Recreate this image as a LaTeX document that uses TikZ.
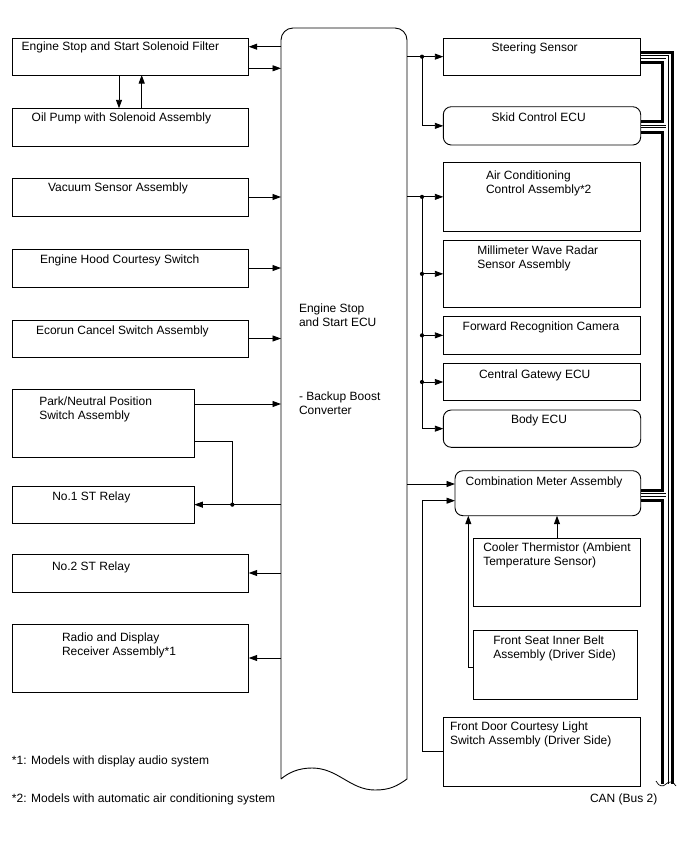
\documentclass[tikz,border=0pt]{standalone}
\usepackage{fontspec}
\setmainfont{Liberation Sans}
\usetikzlibrary{arrows.meta}
\begin{document}
\begin{tikzpicture}[x=1pt,y=-1pt,
  box/.style={draw, line width=0.9pt, inner sep=0pt, outer sep=0pt, anchor=north west},
  rbox/.style={box, rounded corners=8pt},
  lbl/.style={inner sep=0pt, outer sep=0pt, anchor=base west, font=\fontsize{12}{14}\selectfont},
  mlbl/.style={inner sep=0pt, outer sep=0pt, anchor=north west, align=left, font=\fontsize{12}{14}\selectfont},
  arr/.style={line width=0.9pt, -{Triangle[length=8.5pt,width=6pt]}},
  ln/.style={line width=0.9pt},
  dot/.style={circle, fill, inner sep=0pt, minimum size=4.2pt},
  thk/.style={line width=3pt},
  dbl/.style={double=white, double distance=1.7pt, line width=0.9pt}
]
\useasboundingbox[fill=white] (0,0) rectangle (688,852);

% ---------- Engine Stop and Start ECU ----------
\node[inner sep=0pt, outer sep=0pt, minimum width=126pt, minimum height=751pt, anchor=north west] (ecu) at (281,28) {};
\draw[line width=0.9pt] (281,779) -- (281,40) .. controls (281,33.4) and (286.4,28) .. (293,28)
  -- (395,28) .. controls (401.6,28) and (407,33.4) .. (407,40) -- (407,779)
  .. controls (397,786) and (390,790) .. (375,790)
  .. controls (350,790) and (338,768) .. (312,768)
  .. controls (298,768) and (288,773) .. (281,779);
\node[mlbl] (ecut1) at (299,303.3) {Engine Stop\\and Start ECU};
\node[mlbl] (ecut2) at (299,391.3) {- Backup Boost\\Converter};

% ---------- left boxes ----------
\node[box, minimum width=236.4pt, minimum height=36.7pt] (filt) at (12.3,38.3) {};
\node[box, minimum width=236.4pt, minimum height=37.7pt] (oil) at (12.3,108.3) {};
\node[box, minimum width=236.4pt, minimum height=38pt] (vac) at (12.3,178) {};
\node[box, minimum width=236.4pt, minimum height=38pt] (hood) at (12.3,249) {};
\node[box, minimum width=236.4pt, minimum height=37pt] (eco) at (12.3,320) {};
\node[box, minimum width=182pt, minimum height=68.3pt] (park) at (12.3,389) {};
\node[box, minimum width=182pt, minimum height=37.3pt] (st1) at (12.3,486) {};
\node[box, minimum width=236.4pt, minimum height=38pt] (st2) at (12.3,554) {};
\node[box, minimum width=236.4pt, minimum height=68pt] (radio) at (12.3,624) {};

\node[lbl] (tfilt) at (21.7,50.7) {Engine Stop and Start Solenoid Filter};
\node[lbl] (toil) at (31.7,121) {Oil Pump with Solenoid Assembly};
\node[lbl] (tvac) at (48,191) {Vacuum Sensor Assembly};
\node[lbl] (thood) at (40,263) {Engine Hood Courtesy Switch};
\node[lbl] (teco) at (36,334) {Ecorun Cancel Switch Assembly};
\node[mlbl] (tpark) at (39.3,397) {Park/Neutral Position\\Switch Assembly};
\node[lbl] (tst1) at (52.3,500) {No.1 ST Relay};
\node[lbl] (tst2) at (52,570) {No.2 ST Relay};
\node[mlbl] (tradio) at (62,632.3) {Radio and Display\\Receiver Assembly*1};

% left connectors
\draw[arr] (ecu.west |- 0,46.7) -- (filt.east |- 0,46.7);
\draw[arr] (filt.east |- 0,68.3) -- (ecu.west |- 0,68.3);
\draw[arr] (filt.south -| 119,0) -- (oil.north -| 119,0);
\draw[arr] (oil.north -| 141.7,0) -- (filt.south -| 141.7,0);
\draw[arr] (vac.east) -- (ecu.west |- vac.east);
\draw[arr] (hood.east) -- (ecu.west |- hood.east);
\draw[arr] (eco.east) -- (ecu.west |- eco.east);
\draw[arr] (park.east |- 0,404) -- (ecu.west |- 0,404);
\draw[arr] (ecu.west |- st1.east) -- (st1.east);
\coordinate (j6) at (232.3,0 |- st1.east);
\draw[ln] (park.east |- 0,441) -| (j6);
\node[dot] (d6) at (j6) {};
\draw[arr] (ecu.west |- st2.east) -- (st2.east);
\draw[arr] (ecu.west |- radio.east) -- (radio.east);

% ---------- right boxes ----------
\node[box, minimum width=197.4pt, minimum height=36.7pt] (steer) at (443.3,38.3) {};
\node[rbox, minimum width=197.4pt, minimum height=38.3pt] (skid) at (443.3,106.7) {};
\node[box, minimum width=197.4pt, minimum height=68.3pt] (ac) at (443.3,162.7) {};
\node[box, minimum width=197.4pt, minimum height=67.7pt] (mm) at (443.3,240) {};
\node[box, minimum width=197.4pt, minimum height=37.3pt] (fwd) at (443.3,316.7) {};
\node[box, minimum width=197.4pt, minimum height=37.4pt] (cgw) at (443.3,363.3) {};
\node[rbox, minimum width=197.4pt, minimum height=37.3pt] (body) at (443.3,410) {};
\node[rbox, minimum width=185.7pt, minimum height=45pt] (comb) at (455,470.7) {};
\node[box, minimum width=167.4pt, minimum height=68.4pt] (cool) at (473.3,538.3) {};
\node[box, minimum width=164.4pt, minimum height=68.6pt] (belt) at (473.3,630.7) {};
\node[box, minimum width=197.4pt, minimum height=68.3pt] (door) at (443.3,717.7) {};

\node[lbl] (tsteer) at (491.7,51.7) {Steering Sensor};
\node[lbl] (tskid) at (491.7,121.7) {Skid Control ECU};
\node[mlbl] (tac) at (486,170.6) {Air Conditioning\\Control Assembly*2};
\node[mlbl] (tmm) at (477.3,245.3) {Millimeter Wave Radar\\Sensor Assembly};
\node[lbl] (tfwd) at (462.7,330) {Forward Recognition Camera};
\node[lbl] (tcgw) at (479,378.3) {Central Gatewy ECU};
\node[lbl] (tbody) at (511,423.3) {Body ECU};
\node[lbl] (tcomb) at (465.7,485.7) {Combination Meter Assembly};
\node[mlbl] (tcool) at (483.3,543) {Cooler Thermistor (Ambient\\Temperature Sensor)};
\node[mlbl] (tbelt) at (493.3,635.3) {Front Seat Inner Belt\\Assembly (Driver Side)};
\node[mlbl] (tdoor) at (450,721.3) {Front Door Courtesy Light\\Switch Assembly (Driver Side)};

% right connectors
\coordinate (j1) at (422,0 |- steer.west);
\draw[arr] (ecu.east |- steer.west) -- (steer.west);
\draw[arr] (j1) |- (skid.west);
\node[dot] (d1) at (j1) {};

\coordinate (j2) at (422,0 |- ac.west);
\coordinate (j3) at (422,0 |- mm.west);
\coordinate (j4) at (422,0 |- fwd.west);
\coordinate (j5) at (422,0 |- cgw.west);
\draw[arr] (ecu.east |- ac.west) -- (ac.west);
\draw[arr] (j2) |- (body.west);
\draw[arr] (j3) -- (mm.west);
\draw[arr] (j4) -- (fwd.west);
\draw[arr] (j5) -- (cgw.west);
\node[dot] (d2) at (j2) {};
\node[dot] (d3) at (j3) {};
\node[dot] (d4) at (j4) {};
\node[dot] (d5) at (j5) {};

\draw[arr] (ecu.east |- 0,484) -- (comb.west |- 0,484);
\draw[arr] (door.west) -- (door.west -| 422,0) |- (comb.west |- 0,500.7);
\draw[arr] (belt.west |- 0,667.7) -- (468.3,667.7) -- (comb.south -| 468.3,0);
\draw[arr] (cool.north) -- (comb.south -| cool.north);

% ---------- CAN bus ----------
\draw[thk] (steer.east |- 0,52) -- (672.3,52) -- (672.3,784);
\draw[dbl] (steer.east |- 0,57) -- (667.3,57) -- (667.3,784)
  (skid.east |- 0,126.5) -- (667.3,126.5)
  (comb.east |- 0,495) -- (667.3,495);
\draw[thk] (steer.east |- 0,62) -- (662.5,62) -- (662.5,121) -- (skid.east |- 0,121);
\draw[thk] (skid.east |- 0,132) -- (662.5,132) -- (662.5,490) -- (comb.east |- 0,490);
\draw[thk] (comb.east |- 0,500) -- (662.5,500) -- (662.5,784);
\draw[line width=0.7pt] (656,781) .. controls (659,787) and (663,787) .. (666,784)
  .. controls (669,781) and (673,781) .. (676,786);

% ---------- footnotes ----------
\node[lbl] (fn1) at (12,764) {*1: Models with display audio system};
\node[lbl] (fn2) at (12,802) {*2: Models with automatic air conditioning system};
\node[lbl] (can) at (590,802) {CAN (Bus 2)};
\end{tikzpicture}
\end{document}
